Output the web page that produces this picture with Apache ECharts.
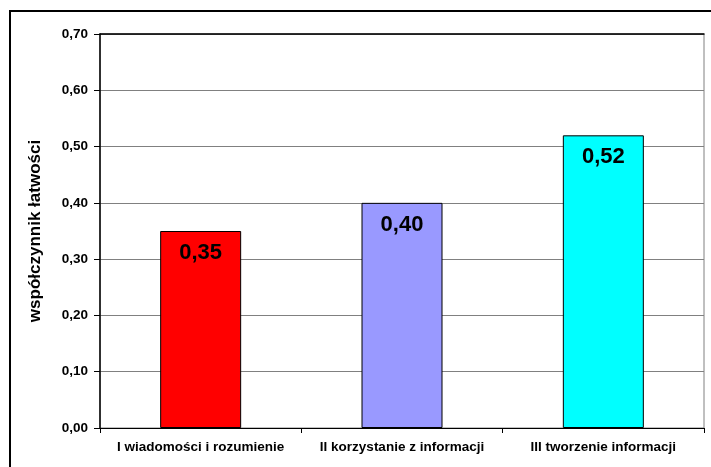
<!DOCTYPE html>
<html>
<head>
<meta charset="utf-8">
<script src="https://cdn.jsdelivr.net/npm/echarts@6/dist/echarts.min.js"></script>
<style>
  html, body { margin: 0; padding: 0; background: #fff; }
  #chart { width: 711px; height: 467px; }
</style>
</head>
<body>
<div id="chart"></div>
<script>
// Categories of skills and their facility index values
const categories = ['I wiadomości i rozumienie', 'II korzystanie z informacji', 'III tworzenie informacji'];
const values = [0.35, 0.40, 0.52];
const barColors = ['#FF0000', '#9999FF', '#00FFFF'];
const yTicks = [0, 0.1, 0.2, 0.3, 0.4, 0.5, 0.6, 0.7];

const fmt = v => v.toFixed(2).replace('.', ',');
const font = 'Liberation Sans, Arial, sans-serif';

const chart = echarts.init(document.getElementById('chart'), null, { renderer: 'canvas' });

chart.setOption({
  backgroundColor: '#fff',
  animation: false,
  grid: {
    left: 100, right: 7, top: 34, bottom: 39,
    show: true, borderColor: '#808080', borderWidth: 1, backgroundColor: 'transparent'
  },
  graphic: [{
    type: 'rect',
    shape: { x: 10, y: 11, width: 740, height: 500 },
    style: { fill: 'none', stroke: '#000', lineWidth: 2 },
    silent: true
  }],
  xAxis: [{
    type: 'category',
    data: categories,
    axisLine: { lineStyle: { color: '#000', width: 1 } },
    axisTick: { show: true, interval: 0, length: 5, lineStyle: { color: '#000' } },
    axisLabel: {
      interval: 0, hideOverlap: false,
      color: '#000', fontFamily: font, fontWeight: 'bold', fontSize: 13.5, margin: 12
    },
    splitLine: { show: false }
  }, {
    type: 'category',
    position: 'top',
    data: categories,
    axisLine: { lineStyle: { color: '#000', width: 1.5 } },
    axisTick: { show: false },
    axisLabel: { show: false }
  }],
  yAxis: {
    type: 'value',
    min: yTicks[0],
    max: yTicks[yTicks.length - 1],
    interval: 0.1,
    name: 'współczynnik łatwości',
    nameLocation: 'middle',
    nameGap: 56,
    nameTextStyle: { color: '#000', fontFamily: font, fontWeight: 'bold', fontSize: 17 },
    axisLine: { show: true, lineStyle: { color: '#000', width: 1.5 } },
    axisTick: { show: true, length: 6, lineStyle: { color: '#000' } },
    axisLabel: {
      color: '#000', fontFamily: font, fontWeight: 'bold', fontSize: 13.5, margin: 12,
      formatter: fmt
    },
    splitLine: { show: true, lineStyle: { color: '#808080', width: 1 } }
  },
  series: [{
    type: 'bar',
    data: values.map((v, i) => ({ value: v, itemStyle: { color: barColors[i] } })),
    barWidth: 81,
    itemStyle: { borderColor: '#000', borderWidth: 1 },
    label: {
      show: true,
      position: 'insideTop',
      distance: 11,
      color: '#000',
      fontFamily: font,
      fontWeight: 'bold',
      fontSize: 22,
      formatter: p => fmt(p.value)
    }
  }]
});
</script>
</body>
</html>
